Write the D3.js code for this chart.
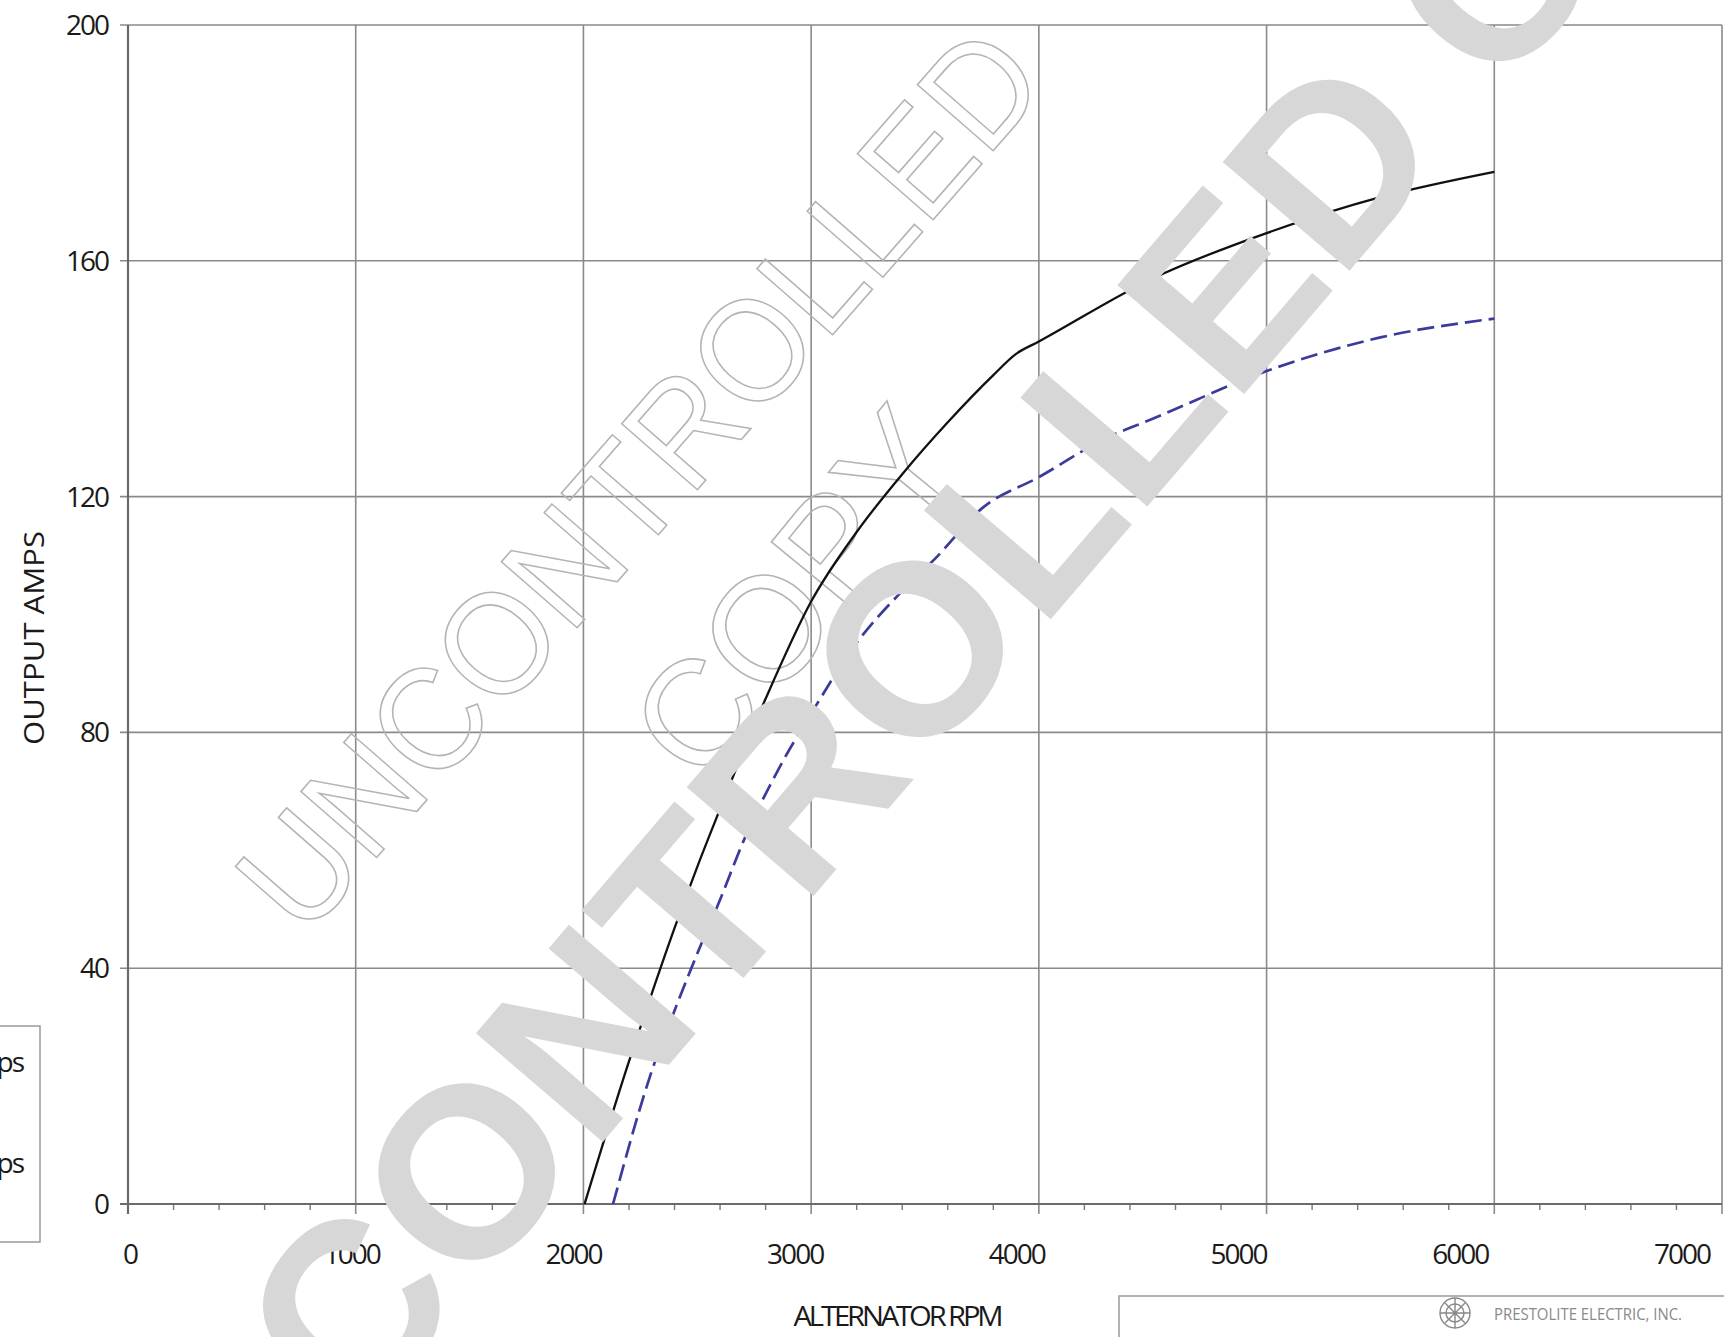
<!DOCTYPE html>
<html><head><meta charset="utf-8">
<script src="https://cdn.jsdelivr.net/npm/d3@7/dist/d3.min.js"></script>
<style>html,body{margin:0;padding:0;background:#fff;overflow:hidden}</style>
</head><body>
<svg id="c" width="1724" height="1337" xmlns="http://www.w3.org/2000/svg"></svg>
<script>
// ---- data ----
const rpmTicks = [0, 1000, 2000, 3000, 4000, 5000, 6000, 7000];
const ampTicks = [0, 40, 80, 120, 160, 200];
const seriesNames = ["Cold Amps", "Hot Amps"];
const coldRpm  = [2005, 2200, 2300, 2400, 2500, 2600, 2700, 2800, 3000, 3200, 3400, 3600, 3800, 3900, 4000, 4500, 5000, 5500, 6000];
const coldAmps = [0, 24.2, 35.7, 46.8, 57.2, 67.0, 76.6, 85.7, 102.2, 114, 123.8, 132.6, 140.6, 144.2, 146.3, 157, 164.7, 170.8, 175.1];
const hotRpm   = [2130, 2320, 2400, 2500, 2600, 2700, 2860, 3000, 3200, 3400, 3550, 3750, 4000, 4300, 4500, 5000, 5500, 6000];
const hotAmps  = [0, 24.8, 32.8, 42.5, 51.6, 61.3, 74, 83.2, 95.2, 104, 109.7, 118, 123.3, 130, 133.2, 141.3, 147, 150.2];
const xTitle = "ALTERNATOR RPM";
const yTitle = "OUTPUT AMPS";
const wmBig = "CONTROLLED COPY";
const wmOutline1 = "UNCONTROLLED";
const wmOutline2 = "COPY";
const company = "PRESTOLITE ELECTRIC, INC.";

// ---- drawing ----
const svg = d3.select("#c");
const x = d3.scaleLinear().domain([0, 7000]).range([128, 1722]);
const y = d3.scaleLinear().domain([0, 200]).range([1204, 25]);
const xLab = d3.scaleLinear().domain([0, 7000]).range([130, 1682]);
const FONT = "'Open Sans', 'Noto Sans', sans-serif";

const grid = svg.append("g").attr("stroke", "#8a8a8a").attr("stroke-width", 1.6);
grid.selectAll(".v").data(rpmTicks.filter(d => d > 0)).join("line")
  .attr("x1", d => x(d)).attr("x2", d => x(d))
  .attr("y1", y(200)).attr("y2", y(0) + 10);
grid.selectAll(".h").data(ampTicks.filter(d => d > 0)).join("line")
  .attr("x1", x(0) - 8).attr("x2", x(7000))
  .attr("y1", d => y(d)).attr("y2", d => y(d));

// minor ticks
const minor = d3.range(0, 7001, 200).filter(d => d % 1000 !== 0);
svg.append("g").attr("stroke", "#777").attr("stroke-width", 1.4)
  .selectAll("line").data(minor).join("line")
  .attr("x1", d => x(d)).attr("x2", d => x(d))
  .attr("y1", y(0)).attr("y2", y(0) + 6);

// axes
const ax = svg.append("g").attr("stroke", "#6a6a6a").attr("stroke-width", 2.2);
ax.append("line").attr("x1", x(0) - 8).attr("x2", x(7000)).attr("y1", y(0)).attr("y2", y(0));
ax.append("line").attr("x1", x(0)).attr("x2", x(0)).attr("y1", y(200)).attr("y2", y(0) + 10);

// tick labels
svg.append("g").attr("font-family", FONT).attr("font-size", 28).attr("fill", "#1a1a1a")
  .attr("letter-spacing", -2).attr("text-anchor", "middle")
  .selectAll("text").data(rpmTicks).join("text")
  .attr("x", d => xLab(d)).attr("y", 1254).attr("dy", "0.36em").text(d => d);
svg.append("g").attr("font-family", FONT).attr("font-size", 28).attr("fill", "#1a1a1a")
  .attr("letter-spacing", -2).attr("text-anchor", "end")
  .selectAll("text").data(ampTicks).join("text")
  .attr("x", 108).attr("y", d => y(d)).attr("dy", "0.36em").text(d => d);

// axis titles
svg.append("text").attr("font-family", FONT).attr("font-size", 28).attr("fill", "#1a1a1a")
  .attr("text-anchor", "middle").attr("transform", "translate(44,638) rotate(-90)")
  .attr("textLength", 214).attr("lengthAdjust", "spacingAndGlyphs").text(yTitle);
svg.append("text").attr("font-family", FONT).attr("font-size", 28).attr("fill", "#1a1a1a")
  .attr("text-anchor", "middle").attr("x", 897).attr("y", 1326)
  .attr("letter-spacing", -3)
  .attr("textLength", 207).attr("lengthAdjust", "spacingAndGlyphs").text(xTitle);

// outlined watermark (beneath the curves)
const wmO = svg.append("g").attr("font-family", "'Liberation Sans', Arial, sans-serif")
  .attr("fill", "none").attr("stroke", "#b4b4b4").attr("stroke-width", 1.6)
  .attr("text-anchor", "middle");
wmO.append("text").attr("font-size", 146)
  .attr("transform", "translate(638,478) rotate(-48.9)")
  .attr("y", 0).attr("dy", "0.36em")
  .attr("textLength", 1136).attr("lengthAdjust", "spacingAndGlyphs").text(wmOutline1);
wmO.append("text").attr("font-size", 150)
  .attr("transform", "translate(794,592) rotate(-50.7)")
  .attr("y", 0).attr("dy", "0.36em")
  .attr("textLength", 420).attr("lengthAdjust", "spacingAndGlyphs").text(wmOutline2);

// series
const line = d3.line().x(d => x(d[0])).y(d => y(d[1])).curve(d3.curveMonotoneX);
svg.append("path").datum(d3.zip(coldRpm, coldAmps))
  .attr("fill", "none").attr("stroke", "#111").attr("stroke-width", 2.3).attr("d", line);
svg.append("path").datum(d3.zip(hotRpm, hotAmps))
  .attr("fill", "none").attr("stroke", "#3b3b9c").attr("stroke-width", 2.7)
  .attr("stroke-dasharray", "17,7").attr("d", line);

// legend box (mostly off the left edge)
svg.append("rect").attr("x", -200).attr("y", 1026).attr("width", 240).attr("height", 216)
  .attr("fill", "none").attr("stroke", "#9a9a9a").attr("stroke-width", 1.5);
svg.append("g").attr("font-family", FONT).attr("font-size", 28).attr("fill", "#1a1a1a")
  .attr("letter-spacing", -2).attr("text-anchor", "end")
  .selectAll("text").data(seriesNames).join("text")
  .attr("x", 23).attr("y", (d, i) => 1062 + i * 101).attr("dy", "0.36em").text(d => d);

// title block bottom right
svg.append("rect").attr("x", 1119).attr("y", 1296).attr("width", 700).attr("height", 200)
  .attr("fill", "none").attr("stroke", "#9a9a9a").attr("stroke-width", 1.5);
const logo = svg.append("g").attr("transform", "translate(1455,1313)")
  .attr("fill", "none").attr("stroke", "#888").attr("stroke-width", 1.4);
logo.append("circle").attr("r", 15);
logo.append("circle").attr("r", 9);
logo.append("path").attr("d", "M-15,0 L15,0 M0,-15 L0,15 M-10,-10 L10,10 M-10,10 L10,-10");
svg.append("text").attr("font-family", FONT).attr("font-size", 17).attr("fill", "#8a8a8a")
  .attr("x", 1494).attr("y", 1314).attr("dy", "0.36em")
  .attr("textLength", 188).attr("lengthAdjust", "spacingAndGlyphs").text(company);

// big grey watermark (on top)
svg.append("text").attr("font-family", "'Liberation Sans', Arial, sans-serif")
  .attr("font-weight", "bold").attr("font-size", 243).attr("fill", "#d7d7d7")
  .attr("transform", "translate(355,1431) rotate(-49.4)")
  .text(wmBig);
</script>
</body></html>
